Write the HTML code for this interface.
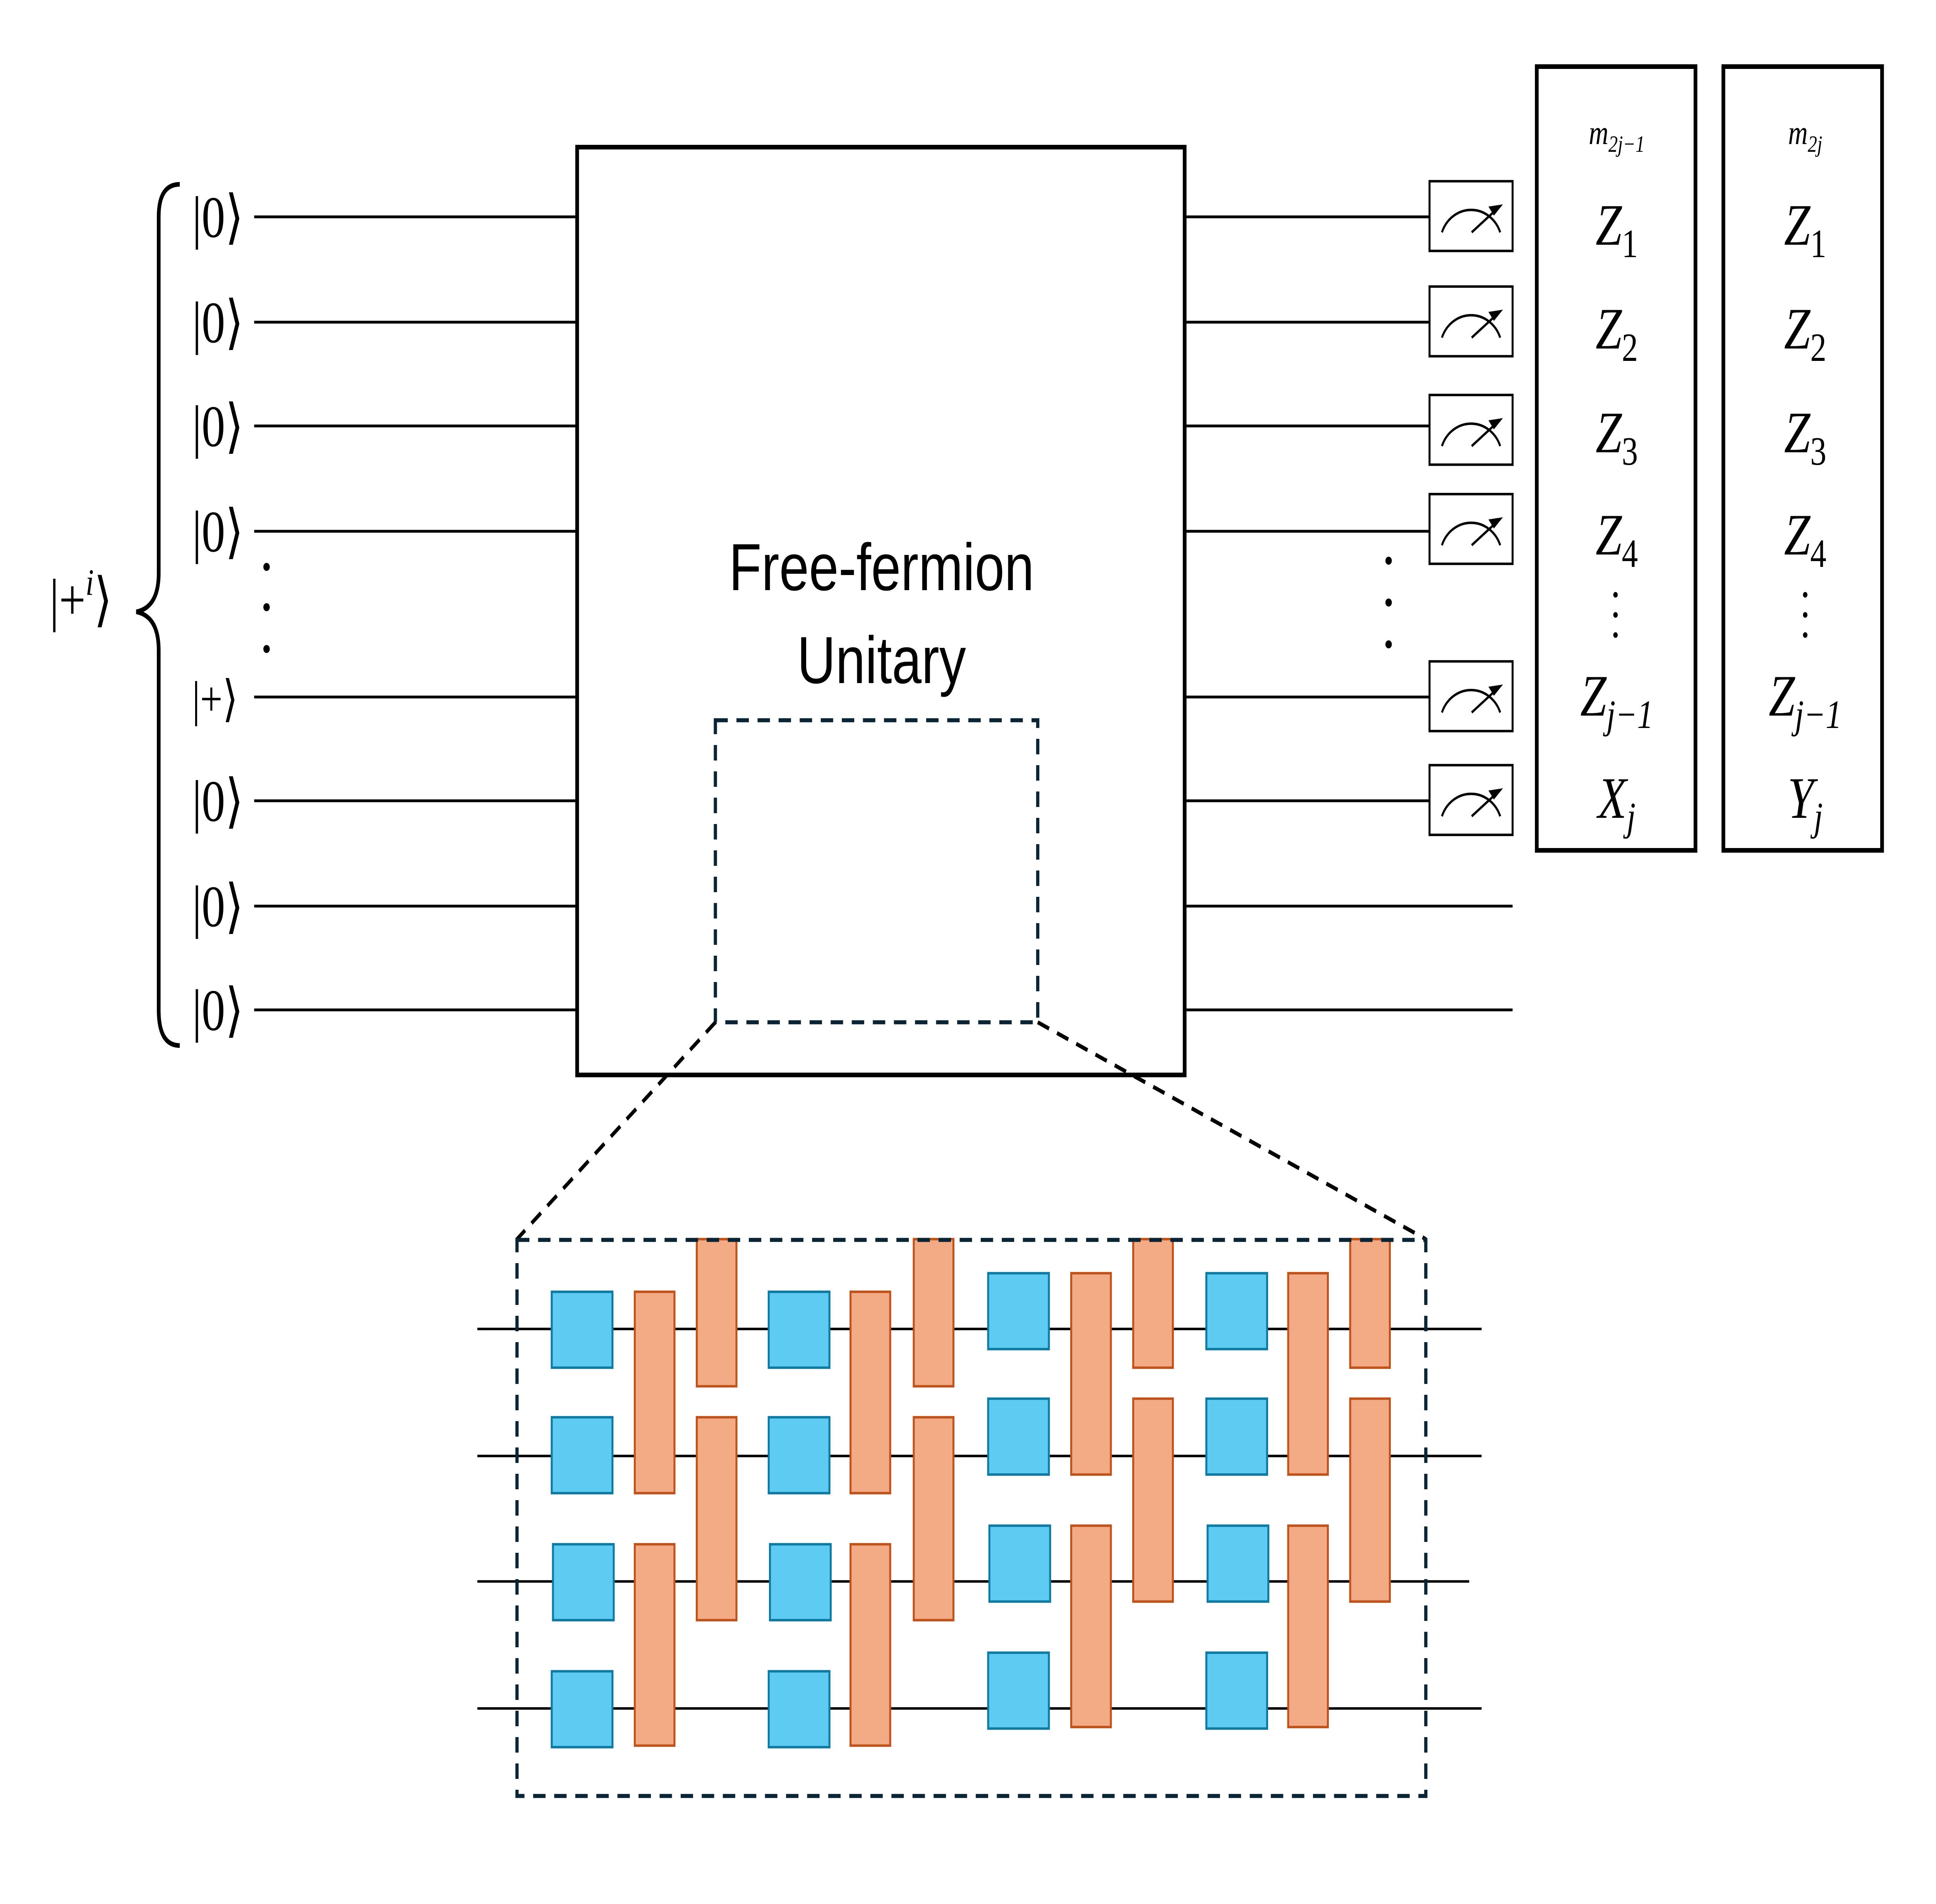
<!DOCTYPE html>
<html><head><meta charset="utf-8"><style>html,body{margin:0;padding:0;background:#fff;width:100%;height:100%;overflow:hidden}svg{display:block;position:absolute;left:0;top:0;width:100vw;height:100vh}</style></head>
<body>
<svg xmlns="http://www.w3.org/2000/svg" viewBox="0 0 1561.5 1229.25" preserveAspectRatio="none">
<rect width="1561.5" height="1229.25" fill="#fff"/>
<g font-family="Liberation Serif, DejaVu Serif, serif" fill="#000">
<path d="M145,119 Q128,119 128,140 L128,370 Q128,392 110,395 Q128,398 128,420 L128,652 Q128,675 145,675" fill="none" stroke="#000" stroke-width="3"/>
<text x="40" y="400" font-size="38">|+<tspan font-size="24" dy="-16" font-style="italic">i</tspan><tspan dy="16">⟩</tspan></text>
<g font-size="38">
<text x="155" y="153">|0⟩</text>
<text x="155" y="221">|0⟩</text>
<text x="155" y="288">|0⟩</text>
<text x="155" y="356">|0⟩</text>
<text x="155" y="462" font-size="32">|+⟩</text>
<text x="155" y="530">|0⟩</text>
<text x="155" y="598">|0⟩</text>
<text x="155" y="665">|0⟩</text>
</g>
<g stroke="#000" stroke-width="1.8">
<line x1="205" y1="140" x2="465" y2="140"/><line x1="205" y1="208" x2="465" y2="208"/>
<line x1="205" y1="275" x2="465" y2="275"/><line x1="205" y1="343" x2="465" y2="343"/>
<line x1="205" y1="450" x2="465" y2="450"/><line x1="205" y1="517" x2="465" y2="517"/>
<line x1="205" y1="585" x2="465" y2="585"/><line x1="205" y1="652" x2="465" y2="652"/>
<line x1="957" y1="140" x2="1153" y2="140"/><line x1="957" y1="208" x2="1153" y2="208"/>
<line x1="957" y1="275" x2="1153" y2="275"/><line x1="957" y1="343" x2="1153" y2="343"/>
<line x1="957" y1="450" x2="1153" y2="450"/><line x1="957" y1="517" x2="1153" y2="517"/>
<line x1="957" y1="585" x2="1220" y2="585"/><line x1="957" y1="652" x2="1220" y2="652"/>
</g>
<g>
<circle cx="215" cy="366" r="2.6"/><circle cx="215" cy="392" r="2.6"/><circle cx="215" cy="419" r="2.6"/>
<circle cx="1120" cy="362" r="2.6"/><circle cx="1120" cy="389" r="2.6"/><circle cx="1120" cy="416" r="2.6"/>
</g>
<rect x="465.5" y="95" width="490" height="599" fill="none" stroke="#000" stroke-width="3"/>
<text x="711" y="381" font-family="Liberation Sans, DejaVu Sans, sans-serif" font-size="43" text-anchor="middle">Free-fermion</text>
<text x="711" y="441" font-family="Liberation Sans, DejaVu Sans, sans-serif" font-size="43" text-anchor="middle">Unitary</text>
<g fill="none" stroke="#0b2535" stroke-width="2.6" stroke-dasharray="10,7">
<rect x="577" y="465" width="260" height="195"/>
<line x1="577" y1="660" x2="417" y2="800" stroke="#000"/>
<line x1="837" y1="660" x2="1150" y2="800" stroke="#000"/>
</g>
<g fill="none" stroke="#000" stroke-width="1.6">
<g id="m"><rect x="1153" y="117" width="67" height="45" fill="#fff"/><path d="M1163,150 A25,22 0 0 1 1210,150"/><line x1="1187" y1="150" x2="1210" y2="133"/><path d="M1210,133 l-8,1 l3,4z" fill="#000"/></g>
<use href="#m" y="68"/><use href="#m" y="138"/><use href="#m" y="202"/><use href="#m" y="310"/><use href="#m" y="377"/>
</g>
<rect x="1239.5" y="43" width="128" height="506" fill="none" stroke="#000" stroke-width="3"/>
<rect x="1390" y="43" width="128" height="506" fill="none" stroke="#000" stroke-width="3"/>
<g font-style="italic" font-size="38" text-anchor="middle">
<text x="1304" y="93" font-size="22">m<tspan font-size="15" dy="5">2j−1</tspan></text>
<text x="1456" y="93" font-size="22">m<tspan font-size="15" dy="5">2j</tspan></text>
<text x="1304" y="158">Z<tspan font-size="26" dy="8" font-style="normal">1</tspan></text>
<text x="1304" y="225">Z<tspan font-size="26" dy="8" font-style="normal">2</tspan></text>
<text x="1304" y="292">Z<tspan font-size="26" dy="8" font-style="normal">3</tspan></text>
<text x="1304" y="358">Z<tspan font-size="26" dy="8" font-style="normal">4</tspan></text>
<text x="1304" y="462">Z<tspan font-size="26" dy="8">j−1</tspan></text>
<text x="1304" y="528">X<tspan font-size="26" dy="8">j</tspan></text>
<text x="1456" y="158">Z<tspan font-size="26" dy="8" font-style="normal">1</tspan></text>
<text x="1456" y="225">Z<tspan font-size="26" dy="8" font-style="normal">2</tspan></text>
<text x="1456" y="292">Z<tspan font-size="26" dy="8" font-style="normal">3</tspan></text>
<text x="1456" y="358">Z<tspan font-size="26" dy="8" font-style="normal">4</tspan></text>
<text x="1456" y="462">Z<tspan font-size="26" dy="8">j−1</tspan></text>
<text x="1456" y="528">Y<tspan font-size="26" dy="8">j</tspan></text>
</g>
<circle cx="1303" cy="384" r="1.8"/><circle cx="1303" cy="397" r="1.8"/><circle cx="1303" cy="410" r="1.8"/>
<circle cx="1456" cy="384" r="1.8"/><circle cx="1456" cy="397" r="1.8"/><circle cx="1456" cy="410" r="1.8"/>
<g stroke="#000" stroke-width="1.6">
<line x1="385" y1="858" x2="1195" y2="858"/><line x1="385" y1="940" x2="1195" y2="940"/>
<line x1="385" y1="1021" x2="1185" y2="1021"/><line x1="385" y1="1103" x2="1195" y2="1103"/>
</g>
<g fill="#5ecbf2" stroke="#117aa0" stroke-width="1.6">
<rect x="445" y="834" width="49" height="49"/><rect x="445" y="915" width="49" height="49"/><rect x="446" y="997" width="49" height="49"/><rect x="445" y="1079" width="49" height="49"/>
<rect x="620" y="834" width="49" height="49"/><rect x="620" y="915" width="49" height="49"/><rect x="621" y="997" width="49" height="49"/><rect x="620" y="1079" width="49" height="49"/>
<rect x="797" y="822" width="49" height="49"/><rect x="797" y="903" width="49" height="49"/><rect x="798" y="985" width="49" height="49"/><rect x="797" y="1067" width="49" height="49"/>
<rect x="973" y="822" width="49" height="49"/><rect x="973" y="903" width="49" height="49"/><rect x="974" y="985" width="49" height="49"/><rect x="973" y="1067" width="49" height="49"/>
</g>
<g fill="#f2ab85" stroke="#c0531b" stroke-width="1.6">
<rect x="512" y="834" width="32" height="130"/><rect x="512" y="997" width="32" height="130"/>
<rect x="562" y="800" width="32" height="95"/><rect x="562" y="915" width="32" height="131"/>
<rect x="686" y="834" width="32" height="130"/><rect x="686" y="997" width="32" height="130"/>
<rect x="737" y="800" width="32" height="95"/><rect x="737" y="915" width="32" height="131"/>
<rect x="864" y="822" width="32" height="130"/><rect x="864" y="985" width="32" height="130"/>
<rect x="914" y="800" width="32" height="83"/><rect x="914" y="903" width="32" height="131"/>
<rect x="1039" y="822" width="32" height="130"/><rect x="1039" y="985" width="32" height="130"/>
<rect x="1089" y="800" width="32" height="83"/><rect x="1089" y="903" width="32" height="131"/>
</g>
<rect x="417" y="800.5" width="733" height="359" fill="none" stroke="#0b2535" stroke-width="2.6" stroke-dasharray="10,7"/>
</g>
</svg>
</body></html>
